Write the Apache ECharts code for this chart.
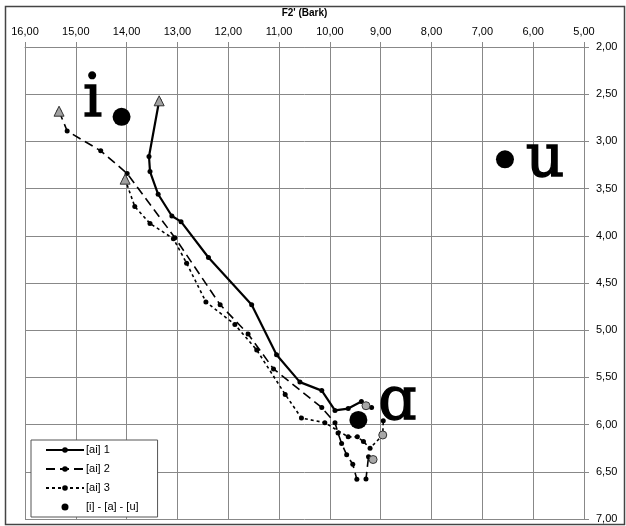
<!DOCTYPE html>
<html>
<head>
<meta charset="utf-8">
<script src="https://cdn.jsdelivr.net/npm/echarts@6/dist/echarts.min.js"></script>
<style>
html,body{margin:0;padding:0;background:#fff;}
#c{width:626px;height:526px;}
</style>
</head>
<body>
<div id="c"></div>
<script>
// ---- data (F2' Bark, F1 Bark) ----
const ai1 = [[13.36,2.57],[13.56,3.16],[13.54,3.32],[13.38,3.56],[13.11,3.79],[12.93,3.85],[12.39,4.23],[11.54,4.73],[11.05,5.26],[10.59,5.55],[10.16,5.64],[9.90,5.85],[9.64,5.83],[9.38,5.755],[9.29,5.80],[9.18,5.82]];
const ai2 = [[15.33,2.68],[15.17,2.89],[14.51,3.10],[13.99,3.34],[13.05,4.02],[12.16,4.73],[11.61,5.04],[11.11,5.41],[10.16,5.82],[9.90,5.98],[9.84,6.09],[9.77,6.20],[9.67,6.32],[9.55,6.42],[9.47,6.58],[9.29,6.575],[9.24,6.34],[9.15,6.37]];
const ai3 = [[14.03,3.40],[13.84,3.69],[13.54,3.87],[13.08,4.03],[12.82,4.29],[12.44,4.70],[11.87,4.94],[11.44,5.21],[10.88,5.68],[10.56,5.93],[10.10,5.98],[9.64,6.13],[9.46,6.13],[9.34,6.18],[9.21,6.25],[8.96,6.11],[8.95,5.96]];
const startPoints = [[13.36,2.57],[15.33,2.68],[14.03,3.40]];
const greyPoints = [[9.29,5.80],[8.96,6.11],[9.15,6.37]];
const vowels = [[14.10,2.74],[9.44,5.95],[6.555,3.19]];
const vowelLabels = ['i','ɑ','u'];
const seriesNames = ['[ai] 1','[ai] 2','[ai] 3','[i] - [a] - [u]'];
const xTitle = "F2' (Bark)";
const yTitle = 'F1 (Bark)';

const fmt = v => v.toFixed(2).replace('.', ',');
const labelOffsets = [[-29,-16],[39,-16],[40,1]];

const chart = echarts.init(document.getElementById('c'), null, {renderer:'canvas'});
const lineBase = (name, data, type, width) => ({
  name, type:'line', data, symbol:'circle', symbolSize:5, showSymbol:true,
  lineStyle:{color:'#000', width, type},
  itemStyle:{color:'#000'},
  animation:false, z:3
});
chart.setOption({
  animation:false,
  backgroundColor:'#fff',
  textStyle:{fontFamily:'Liberation Sans, Arial, sans-serif'},
  graphic:[{type:'rect', left:3, top:4, shape:{width:619, height:518}, style:{fill:'none', stroke:'#444', lineWidth:1.5}, z:-1}],
  grid:{left:25, right:42, top:47, bottom:7, outerBoundsMode:'none', containLabel:false},
  xAxis:{
    type:'value', position:'top', inverse:true, min:5, max:16, interval:1,
    name:xTitle, nameLocation:'middle', nameGap:29,
    nameTextStyle:{fontWeight:'bold', fontSize:10, color:'#000'},
    axisLine:{show:true, lineStyle:{color:'#888'}},
    axisTick:{show:true, length:5, lineStyle:{color:'#888'}},
    axisLabel:{formatter:fmt, fontSize:11, color:'#000', margin:10},
    splitLine:{show:true, lineStyle:{color:'#888', width:1}}
  },
  yAxis:{
    type:'value', position:'right', inverse:true, min:2, max:7, interval:0.5,
    name:yTitle, nameLocation:'middle', nameGap:44, nameRotate:90,
    nameTextStyle:{fontWeight:'bold', fontSize:10, color:'#000'},
    axisLine:{show:true, lineStyle:{color:'#888'}},
    axisTick:{show:true, length:5, lineStyle:{color:'#888'}},
    axisLabel:{formatter:fmt, fontSize:11, color:'#000', margin:12},
    splitLine:{show:true, lineStyle:{color:'#888', width:1}}
  },
  legend:{
    data:seriesNames.map((n,i)=> i===3 ? {name:n, icon:'circle', itemStyle:{color:'#000', opacity:1}} : {name:n}),
    orient:'vertical', left:31, top:440,
    itemWidth:38, itemHeight:7, itemGap:7,
    padding:[4,19,4,14],
    backgroundColor:'#fff', borderColor:'#555', borderWidth:1, borderRadius:0,
    textStyle:{fontSize:11, color:'#000', padding:[0,0,0,-3], lineHeight:12},
    itemStyle:{color:'#000'}
  },
  series:[
    lineBase(seriesNames[0], ai1, 'solid', 2.2),
    lineBase(seriesNames[1], ai2, [9,5], 1.6),
    lineBase(seriesNames[2], ai3, [3,3], 1.6),
    {name:'start', type:'scatter', data:startPoints, symbol:'triangle', symbolSize:10,
     itemStyle:{color:'#a0a0a0', borderColor:'#333', borderWidth:1, opacity:1}, z:4},
    {name:'end', type:'scatter', data:greyPoints, symbol:'circle', symbolSize:8,
     itemStyle:{color:'#a8a8a8', borderColor:'#333', borderWidth:1, opacity:1}, z:4},
    {name:seriesNames[3], type:'scatter', symbol:'circle', symbolSize:18,
     itemStyle:{color:'#000', opacity:1}, z:5,
     data: vowels.map((p,i)=>({value:p, label:{show:true, formatter:vowelLabels[i], position:'inside', offset:labelOffsets[i],
        fontFamily:'DejaVu Serif, Liberation Serif, serif', fontSize:60, color:'#000', textBorderColor:'#000', textBorderWidth:1.4,
        align:'center', verticalAlign:'middle'}}))
    }
  ]
});
</script>
</body>
</html>
